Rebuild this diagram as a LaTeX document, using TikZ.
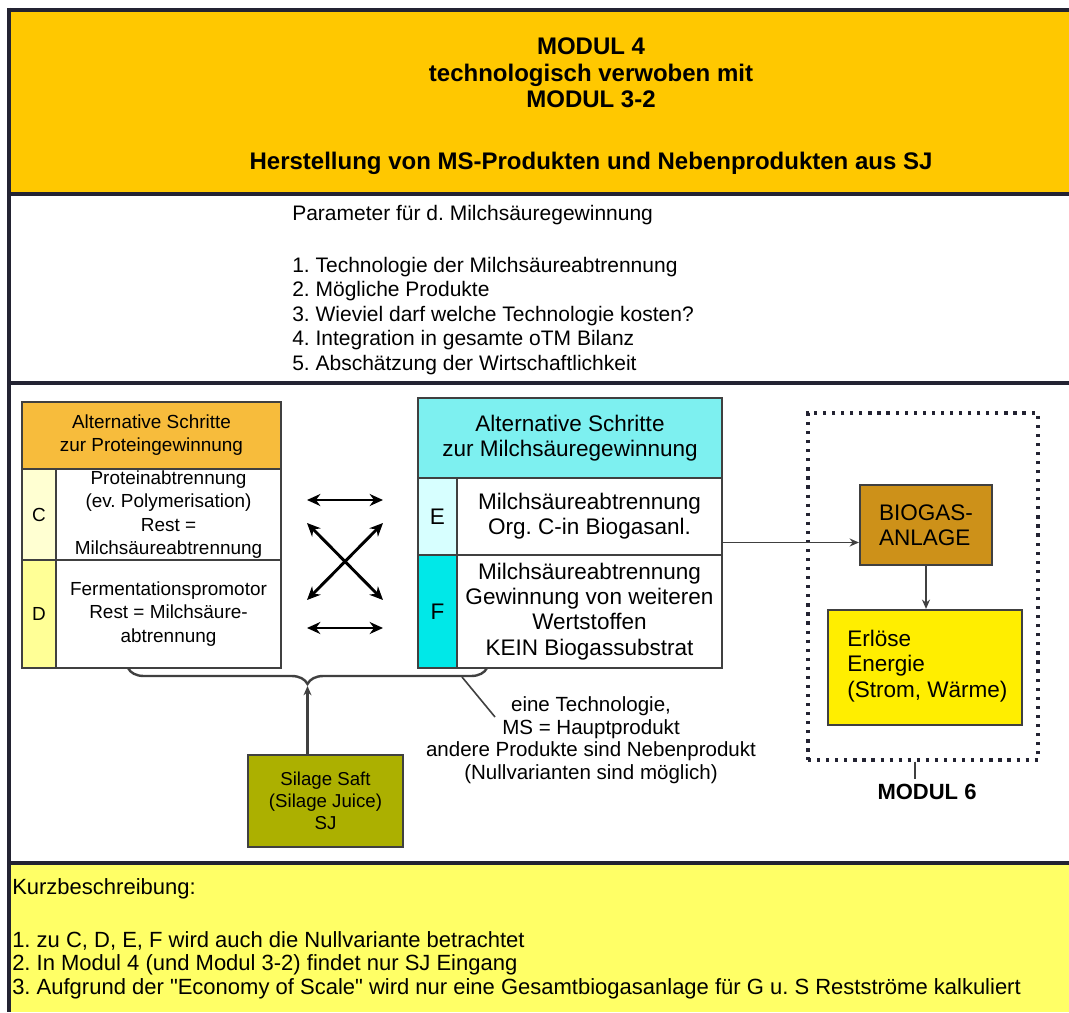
\documentclass[tikz,border=0pt]{standalone}
\usepackage{fontspec}
\setmainfont{Liberation Sans}
\newfontfamily\plainsans{Liberation Sans}[Ligatures=TeXOff]
\usetikzlibrary{arrows.meta,positioning,decorations.pathreplacing,calc}
\definecolor{headgold}{RGB}{255,200,0}
\definecolor{notesyellow}{RGB}{255,255,102}
\definecolor{frameink}{RGB}{35,35,50}
\definecolor{boxline}{RGB}{64,64,64}
\definecolor{protorange}{RGB}{247,188,60}
\definecolor{cpale}{RGB}{255,255,210}
\definecolor{dpale}{RGB}{255,255,150}
\definecolor{msacyan}{RGB}{125,240,240}
\definecolor{epale}{RGB}{215,255,255}
\definecolor{fcyan}{RGB}{0,232,232}
\definecolor{biogold}{RGB}{205,145,25}
\definecolor{erlyellow}{RGB}{255,238,0}
\definecolor{silageolive}{RGB}{172,176,0}
\newcommand{\pxu}{0.75pt}
\frenchspacing

\begin{document}
\begin{tikzpicture}[
    x=0.75pt,y=-0.75pt,
    frame/.style={draw=frameink, line width=3pt},
    wh/.style 2 args={minimum width=#1*\pxu, minimum height=#2*\pxu},
    cell/.style={draw=boxline, line width=1.4pt, inner sep=0pt, align=center},
    headtext/.style={font=\fontsize{18}{20}\selectfont\bfseries, align=center},
    partext/.style={font=\fontsize{15.75}{18}\selectfont, anchor=west, inner sep=0pt},
    kurztext/.style={font=\plainsans\fontsize{16.5}{18}\selectfont, anchor=west, inner sep=0pt},
    lefttext/.style={font=\fontsize{14.2}{17.4}\selectfont},
    righttext/.style={font=\fontsize{16.9}{18.9}\selectfont},
    notetext/.style={font=\fontsize{15.4}{16.9}\selectfont, align=center, inner sep=0pt},
    dblarrow/.style={{Stealth[length=10pt,width=9pt]}-{Stealth[length=10pt,width=9pt]}, line width=2.2pt},
    flow/.style={-{Stealth[length=7pt,width=6pt]}, line width=1.4pt, boxline},
    dotframe/.style={draw=frameink, line width=2.4pt, dash pattern=on 2.4pt off 4.4pt},
    bracestyle/.style={decorate, decoration={brace, amplitude=12pt}, line width=1.8pt, boxline}
  ]
  \useasboundingbox (0,0) rectangle (1069,1012);
  \fill[white] (0,0) rectangle (1069,1012);
  % bands
  \fill[headgold] (9,10) rectangle (1069,194);
  \fill[notesyellow] (9,863) rectangle (1069,1012);
  \draw[frame, line width=3.5pt] (9,10) -- (1069,10);
  \draw[frame] (9,194) -- (1069,194);
  \draw[frame] (9,383) -- (1069,383);
  \draw[frame] (9,863) -- (1069,863);
  \draw[frame] (9,8) -- (9,1012);

  % title
  \node[headtext] (modTitle) at (591,73) {MODUL 4\\technologisch verwoben mit\\MODUL 3-2};
  \node[headtext] (modSubtitle) at (591,163) {Herstellung von MS-Produkten und Nebenprodukten aus SJ};

  % parameter
  \node[partext] (paramHead) at (292,215) {Parameter für d. Milchsäuregewinnung};
  \foreach \t [count=\i] in {1. Technologie der Milchsäureabtrennung, 2. Mögliche Produkte,
      3. Wieviel darf welche Technologie kosten?, 4. Integration in gesamte oTM Bilanz,
      5. Abschätzung der Wirtschaftlichkeit}
    \node[partext] (param\i) at (292,242.5+24.5*\i) {\t};

  % protein steps
  \node[cell, fill=protorange, wh={259}{67}, lefttext] (protHead) at (151.5,435.5) {Alternative Schritte\\zur Proteingewinnung};
  \node[cell, fill=cpale, wh={34}{91}, lefttext] (cLetter) at (39,514.5) {C};
  \node[cell, wh={225}{91}, lefttext] (cStep) at (168.5,514.5) {Proteinabtrennung\\(ev. Polymerisation)\\Rest =\\Milchsäureabtrennung};
  \node[cell, fill=dpale, wh={34}{108}, lefttext] (dLetter) at (39,614) {D};
  \node[cell, wh={225}{108}, lefttext] (dStep) at (168.5,614) {Fermentationspromotor\\Rest = Milchsäure-\\abtrennung};

  % lactic acid steps
  \node[cell, fill=msacyan, wh={304}{80}, righttext] (msaHead) at (570,438) {Alternative Schritte\\zur Milchsäuregewinnung};
  \node[cell, fill=epale, wh={39}{77}, righttext] (eLetter) at (437.5,516.5) {E};
  \node[cell, wh={265}{77}, righttext] (eStep) at (589.5,516.5) {Milchsäureabtrennung\\Org. C-in Biogasanl.};
  \node[cell, fill=fcyan, wh={39}{113}, righttext] (fLetter) at (437.5,611.5) {F};
  \node[cell, wh={265}{113}, righttext] (fStep) at (589.5,611.5) {Milchsäureabtrennung\\Gewinnung von weiteren\\Wertstoffen\\KEIN Biogassubstrat};

  % combinations
  \coordinate (xTopL) at (307,500);   \coordinate (xTopR) at (383,500);
  \coordinate (xUpL) at (307,523);    \coordinate (xUpR) at (383,523);
  \coordinate (xLowL) at (307,600);   \coordinate (xLowR) at (383,600);
  \coordinate (xBotL) at (307,628);   \coordinate (xBotR) at (383,628);
  \draw[dblarrow] (xTopL) -- (xTopR);
  \draw[dblarrow] (xUpL) -- (xLowR);
  \draw[dblarrow] (xLowL) -- (xUpR);
  \draw[dblarrow] (xBotL) -- (xBotR);

  % modul 6
  \node[dotframe, wh={230}{347}] (modul6) at (923,586.5) {};
  \node[cell, fill=biogold, wh={132}{80}, righttext, align=left, line width=1.6pt] (biogas) at (926,525) {BIOGAS-\\ANLAGE};
  \node[cell, fill=erlyellow, wh={194}{115}, line width=1.6pt] (erloese) at (925,667.5) {};
  \node[righttext, align=left, anchor=west, inner sep=0pt] (erloeseText) at (847,666) {Erlöse\\Energie\\(Strom, Wärme)};
  \node[font=\fontsize{16.5}{18}\selectfont\bfseries] (modul6Label) at (927,792) {MODUL 6};
  \draw[line width=1.2pt, boxline] ($(modul6.south)+(-8,0)$) -- ($(modul6.south)+(-8,17)$);

  \path (eStep.east) ++(0,26) coordinate (eOut);
  \draw[flow] (eOut) -- (eOut -| biogas.west);
  \draw[flow] (biogas.south) -- (biogas.south |- erloese.north);

  % silage juice input
  \node[cell, fill=silageolive, wh={155}{92}, font=\fontsize{14}{16.5}\selectfont] (silage) at (325.5,801) {Silage Saft\\(Silage Juice)\\SJ};
  \coordinate (braceR) at (487,668);
  \coordinate (braceL) at (128,668);
  \coordinate (braceTip) at (307.5,686);
  \draw[bracestyle] (braceR) -- (braceL);
  \draw[flow, line width=1.8pt] (silage.north -| braceTip) -- (braceTip);

  % note
  \node[notetext] (noteText) at (591,740) {eine Technologie,\\MS = Hauptprodukt\\andere Produkte sind Nebenprodukt\\(Nullvarianten sind möglich)};
  \coordinate (braceNote) at (462,677);
  \coordinate (noteTip) at (495,717);
  \draw[line width=1.2pt, boxline] (braceNote) -- (noteTip);

  % short description
  \node[kurztext] (kurzHead) at (12,889) {Kurzbeschreibung:};
  \node[kurztext] (kurz1) at (12,941) {1. zu C, D, E, F wird auch die Nullvariante betrachtet};
  \node[kurztext] (kurz2) at (12,965) {2. In Modul 4 (und Modul 3-2) findet nur SJ Eingang};
  \node[kurztext] (kurz3) at (12,989) {3. Aufgrund der "Economy of Scale" wird nur eine Gesamtbiogasanlage für G u. S Restströme kalkuliert};
\end{tikzpicture}
\end{document}
